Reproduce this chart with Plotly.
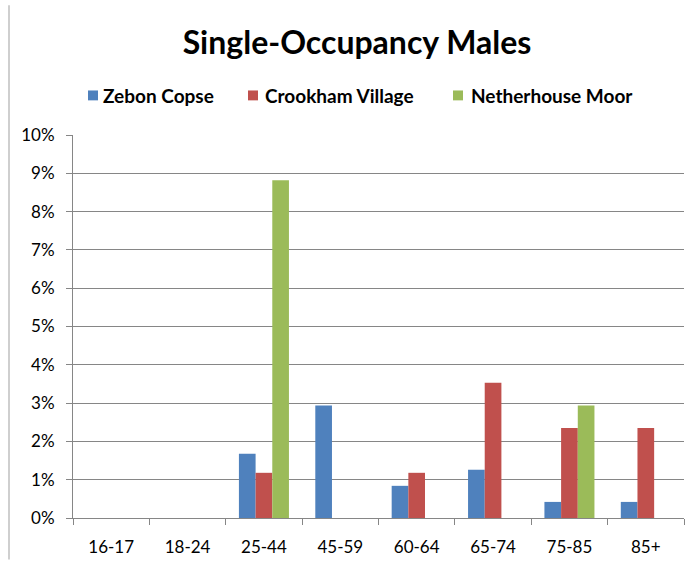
import plotly.graph_objects as go

categories = ["16-17", "18-24", "25-44", "45-59", "60-64", "65-74", "75-85", "85+"]
zebon_copse = [0, 0, 1.68, 2.94, 0.84, 1.26, 0.42, 0.42]
crookham_village = [0, 0, 1.18, 0, 1.18, 3.53, 2.35, 2.35]
netherhouse_moor = [0, 0, 8.82, 0, 0, 0, 2.94, 0]
y_ticks = [0, 1, 2, 3, 4, 5, 6, 7, 8, 9, 10]
series_names = ["Zebon Copse", "Crookham Village", "Netherhouse Moor"]
series_colors = ["#4F81BD", "#C0504D", "#9BBB59"]

W, H = 694, 567
L, R, T, B = 73, 10, 135, 45
FONT = "Lato"

fig = go.Figure()
for name, vals, col in zip(series_names, [zebon_copse, crookham_village, netherhouse_moor], series_colors):
    fig.add_trace(go.Bar(x=categories, y=vals, name=name, showlegend=False,
                         marker=dict(color=col, line=dict(width=0))))

pw = W - L - R
ph = H - T - B
def px(x):
    return (x - L) / pw
def py(y):
    return 1 - (y - T) / ph

# chart-area frame: left edge
fig.add_shape(type="line", xref="paper", yref="paper",
              x0=px(9), x1=px(9), y0=py(H - 3), y1=py(4),
              line=dict(color="#BFBFBF", width=1.5), layer="below")

# legend (square swatch + bold label)
legend_sq_x = [88, 248, 453]
legend_txt_x = [101, 263, 469]
LEG_Y = 95
for name, col, sx, tx in zip(series_names, series_colors, legend_sq_x, legend_txt_x):
    fig.add_shape(type="rect", xref="paper", yref="paper",
                  x0=px(sx), x1=px(sx + 10), y0=py(LEG_Y + 5), y1=py(LEG_Y - 5),
                  line=dict(width=0), fillcolor=col)
    fig.add_annotation(text=f"<b>{name}</b>", xref="paper", yref="paper",
                       x=px(tx), y=py(LEG_Y), xanchor="left", yanchor="middle",
                       showarrow=False, font=dict(family=FONT, size=19, color="#000000"))

fig.update_layout(
    width=W, height=H,
    margin=dict(l=L, r=R, t=T, b=B),
    paper_bgcolor="white", plot_bgcolor="white",
    barmode="group", bargap=0.345, bargroupgap=0,
    showlegend=False,
    font=dict(family=FONT, size=17, color="#000000"),
    title=dict(text="<b>Single-Occupancy Males</b>", x=357 / W, xref="container", xanchor="center",
               y=1 - 43 / H, yref="container", yanchor="middle",
               font=dict(family=FONT, size=32, color="#000000")),
    xaxis=dict(type="category", showline=True, linecolor="#868686", linewidth=1,
               ticks="outside", tickson="boundaries", ticklen=6, tickcolor="#868686",
               showgrid=False, ticklabelstandoff=14, tickfont=dict(family=FONT, size=17, color="#000000")),
    yaxis=dict(range=[0, 10], tickvals=y_ticks, ticktext=[f"{v}%" for v in y_ticks],
               showline=True, linecolor="#868686", linewidth=1,
               ticks="outside", ticklen=6, tickcolor="#868686",
               showgrid=True, gridcolor="#868686", gridwidth=1, zeroline=False,
               ticklabelstandoff=8, tickfont=dict(family=FONT, size=17, color="#000000")),
)

fig.write_html("out.html", config={"displayModeBar": False},
               post_script="document.body.style.margin='0px';")
